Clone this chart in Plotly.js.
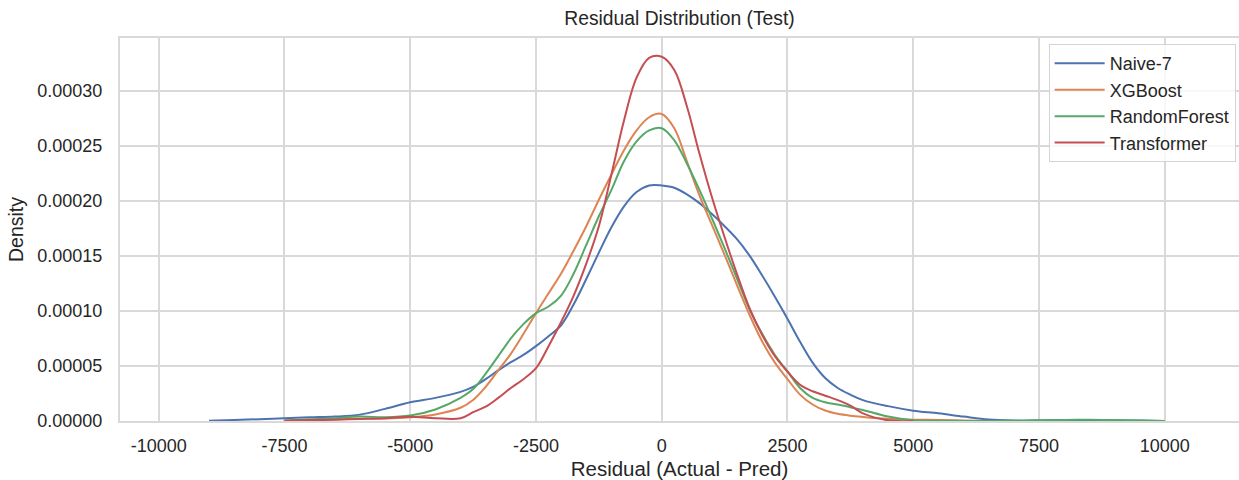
<!DOCTYPE html>
<html>
<head>
<meta charset="utf-8">
<script src="https://cdn.plot.ly/plotly-3.0.1.min.js"></script>
<style>
  html, body { margin: 0; padding: 0; background: #ffffff; }
  #chart { width: 1239px; height: 480px; }
</style>
</head>
<body>
<div id="chart"></div>
<script>
// Residual grid (x) shared by all KDE curves
const residuals = [-9500, -9000, -8500, -8000, -7500, -7000, -6500, -6000, -5500, -5000,
  -4500, -4000, -3750, -3500, -3250, -3000, -2750, -2500, -2250, -2000,
  -1750, -1500, -1250, -1000, -750, -500, -250, 0, 250, 500,
  750, 1000, 1250, 1500, 1750, 2000, 2250, 2500, 2750, 3000,
  3250, 3500, 3750, 4000, 4500, 5000, 5500, 6000, 6500, 7000,
  7500, 8000, 8500, 9000, 9500, 10000];

const naive7 = [null, 3e-7, 9e-7, 1.6e-6, 2.4e-6, 3.3e-6, 4.0e-6, 5.8e-6, 1.1e-5, 1.7e-5,
  2.1e-5, 2.65e-5, 3.1e-5, 3.8e-5, 4.6e-5, 5.35e-5, 6.0e-5, 6.8e-5, 7.7e-5, 8.7e-5,
  1.06e-4, 1.29e-4, 1.53e-4, 1.76e-4, 1.95e-4, 2.08e-4, 2.14e-4, 2.14e-4, 2.12e-4, 2.06e-4,
  1.98e-4, 1.88e-4, 1.77e-4, 1.65e-4, 1.50e-4, 1.32e-4, 1.13e-4, 9.3e-5, 7.2e-5, 5.3e-5,
  3.9e-5, 3.0e-5, 2.4e-5, 1.9e-5, 1.35e-5, 9.4e-6, 7.0e-6, 4.0e-6, 1.3e-6, 4e-7,
  4e-7, 5e-7, 5e-7, 5e-7, 4e-7, 1e-7];

const xgboost = [null, null, null, null, 3e-7, 8e-7, 1.5e-6, 2.1e-6, 2.3e-6, 3.5e-6,
  6e-6, 1.2e-5, 1.9e-5, 3.1e-5, 4.6e-5, 6.1e-5, 7.9e-5, 9.8e-5, 1.16e-4, 1.34e-4,
  1.55e-4, 1.77e-4, 2.01e-4, 2.24e-4, 2.46e-4, 2.64e-4, 2.76e-4, 2.79e-4, 2.66e-4, 2.36e-4,
  2.05e-4, 1.78e-4, 1.51e-4, 1.23e-4, 9.6e-5, 7.2e-5, 5.3e-5, 3.8e-5, 2.4e-5, 1.5e-5,
  9.5e-6, 6.5e-6, 4.8e-6, 3.7e-6, 2e-6, 1.2e-6, 1e-6, 5e-7, 1e-7, null,
  null, null, null, null, null, null];

const randomForest = [null, null, null, null, 5e-7, 1.5e-6, 2.5e-6, 4e-6, 3.5e-6, 5e-6,
  1.05e-5, 2.1e-5, 2.9e-5, 4.3e-5, 5.9e-5, 7.5e-5, 8.8e-5, 9.8e-5, 1.04e-4, 1.14e-4,
  1.34e-4, 1.60e-4, 1.86e-4, 2.10e-4, 2.36e-4, 2.54e-4, 2.64e-4, 2.66e-4, 2.55e-4, 2.34e-4,
  2.10e-4, 1.84e-4, 1.57e-4, 1.29e-4, 1.01e-4, 7.9e-5, 6.0e-5, 4.5e-5, 3.0e-5, 2.1e-5,
  1.7e-5, 1.5e-5, 1.25e-5, 1.0e-5, 4e-6, 6e-7, 2e-7, 1e-7, 1e-7, 2e-7,
  6e-7, 1.0e-6, 1.1e-6, 8e-7, 4e-7, 1e-7];

const transformer = [null, null, null, null, 3e-7, 8e-7, 1.2e-6, 1.8e-6, 2.5e-6, 3.8e-6,
  2.5e-6, 2.5e-6, 8e-6, 1.3e-5, 2.1e-5, 3.0e-5, 3.8e-5, 4.8e-5, 6.8e-5, 9.0e-5,
  1.14e-4, 1.43e-4, 1.77e-4, 2.24e-4, 2.73e-4, 3.12e-4, 3.30e-4, 3.31e-4, 3.19e-4, 2.86e-4,
  2.43e-4, 2.03e-4, 1.67e-4, 1.33e-4, 1.02e-4, 7.8e-5, 5.9e-5, 4.5e-5, 3.3e-5, 2.7e-5,
  2.3e-5, 1.9e-5, 1.4e-5, 7e-6, 6e-7, 1e-7, null, null, null, null,
  null, null, null, null, null, null];

const seriesNames = ["Naive-7", "XGBoost", "RandomForest", "Transformer"];
const seriesValues = [naive7, xgboost, randomForest, transformer];
const seriesColors = ["#4C72B0", "#DD8452", "#55A868", "#C44E52"];

const xTicks = [-10000, -7500, -5000, -2500, 0, 2500, 5000, 7500, 10000];
const yTicks = [0, 0.00005, 0.0001, 0.00015, 0.0002, 0.00025, 0.0003];

const FONT = "'Liberation Sans', Arial, 'DejaVu Sans', sans-serif";
const TXT = "#262626";
const GRID = "#d9d9d9";

const traces = seriesNames.map((name, i) => ({
  type: "scatter",
  mode: "lines",
  name: name,
  x: residuals,
  y: seriesValues[i],
  connectgaps: false,
  line: { color: seriesColors[i], width: 2, shape: "spline", smoothing: 1.0 },
  hoverinfo: "x+y+name"
}));

const layout = {
  width: 1239,
  height: 480,
  margin: { l: 120, r: 0, t: 38, b: 59 },
  paper_bgcolor: "#ffffff",
  plot_bgcolor: "#ffffff",
  font: { family: FONT, color: TXT, size: 18 },
  title: {
    text: "Residual Distribution (Test)",
    font: { family: FONT, size: 19.3, color: TXT },
    x: 0.5, xref: "paper", xanchor: "center",
    y: 1 - 18 / 480, yref: "container", yanchor: "middle"
  },
  xaxis: {
    range: [-10770, 11477],
    tickvals: xTicks,
    ticktext: xTicks.map(v => String(v)),
    showgrid: true, gridcolor: GRID, gridwidth: 2,
    zeroline: false,
    showline: true, linecolor: GRID, linewidth: 2, mirror: true,
    ticks: "", ticklabelstandoff: 7,
    tickfont: { family: FONT, size: 18, color: TXT },
    title: { text: "Residual (Actual - Pred)", font: { family: FONT, size: 20.5, color: TXT }, standoff: 8 },
    automargin: false, fixedrange: true
  },
  yaxis: {
    range: [0, 0.000348],
    tickvals: yTicks,
    tickformat: ".5f",
    showgrid: true, gridcolor: GRID, gridwidth: 2,
    zeroline: false,
    showline: true, linecolor: GRID, linewidth: 2, mirror: false,
    ticks: "", ticklabelstandoff: 12,
    tickfont: { family: FONT, size: 18, color: TXT },
    title: { text: "Density", font: { family: FONT, size: 19.5, color: TXT }, standoff: 8 },
    automargin: false, fixedrange: true
  },
  legend: {
    x: 0.997, xanchor: "right", xref: "paper",
    y: 0.984, yanchor: "top", yref: "paper",
    bgcolor: "rgba(255,255,255,0.8)",
    bordercolor: "#d4d4d4", borderwidth: 1,
    font: { family: FONT, size: 18, color: TXT },
    itemwidth: 50
  },
  showlegend: true
};

Plotly.newPlot("chart", traces, layout, { staticPlot: true, displayModeBar: false });
</script>
</body>
</html>
